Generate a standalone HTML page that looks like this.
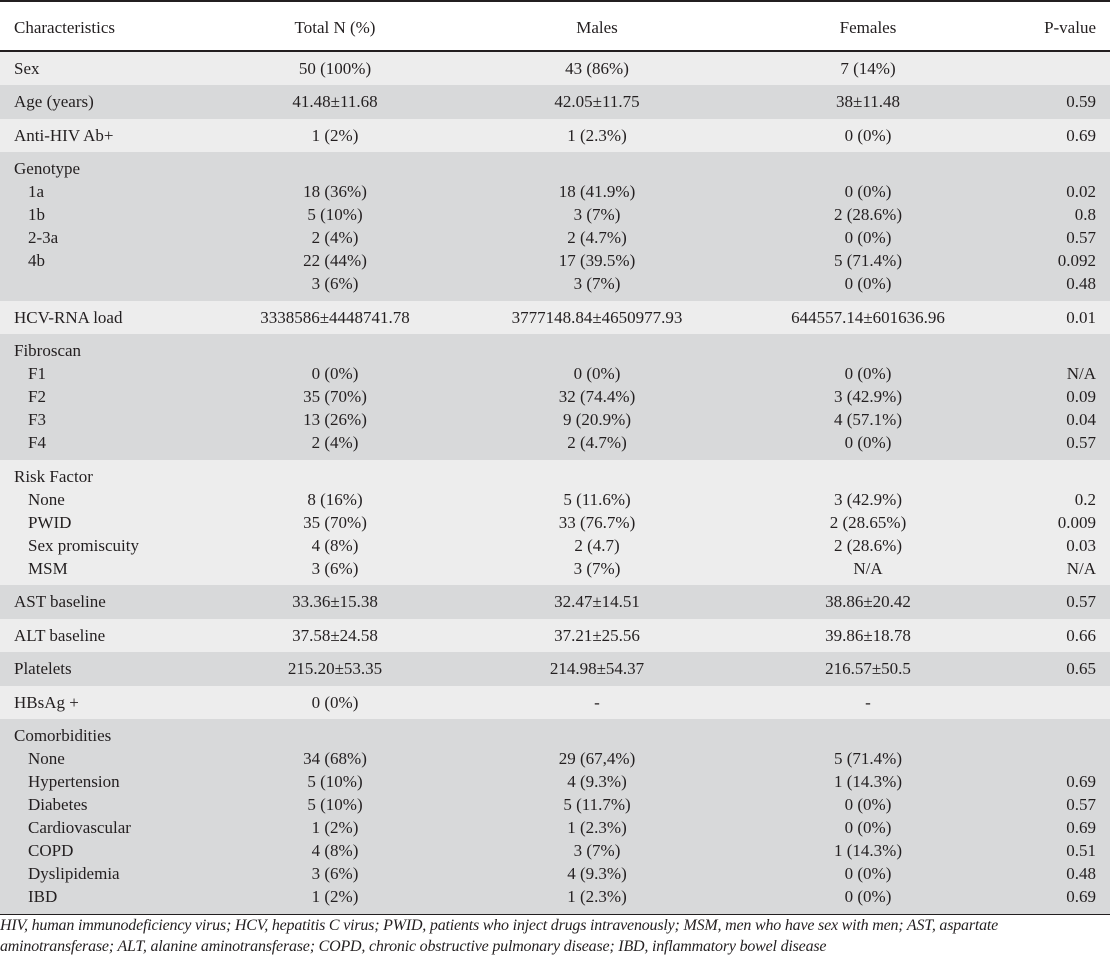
<!DOCTYPE html>
<html><head><meta charset="utf-8">
<style>
html,body{margin:0;padding:0;background:#fff;}
body{width:1110px;height:957px;position:relative;overflow:hidden;font-family:"Liberation Serif",serif;font-size:17px;color:#231f20;}
.top{position:absolute;left:0;top:0;width:1110px;height:2px;background:#231f20;}
.hdr{position:absolute;left:0;top:2px;width:1110px;height:48px;}
.hl{position:absolute;left:0;top:50px;width:1110px;height:1.5px;background:#231f20;}
.body{position:absolute;left:0;top:51.5px;width:1110px;}
.g{padding:5px 0 5.5px 0;}
.L{background:#ededed;}
.D{background:#d8d9da;}
.ln{position:relative;height:23px;line-height:23px;white-space:nowrap;}
.ln span{position:absolute;top:0;}
.c0{left:14px;}
.c0.s{left:28px;}
.c1{left:335px;transform:translateX(-50%);}
.c2{left:597px;transform:translateX(-50%);}
.c3{left:868px;transform:translateX(-50%);}
.c4{right:14px;}
.hdr .ln{position:absolute;top:14px;left:0;width:1110px;}
.bl{position:absolute;left:0;top:913.5px;width:1110px;height:1.5px;background:#231f20;}
.foot{position:absolute;left:0;top:915px;width:1110px;font-style:italic;font-size:16px;line-height:21px;white-space:nowrap;letter-spacing:-0.2px;}
</style></head>
<body>
<div class="top"></div>
<div class="hdr">
 <div class="ln"><span class="c0">Characteristics</span><span class="c1">Total N (%)</span><span class="c2">Males</span><span class="c3">Females</span><span class="c4">P-value</span></div>
</div>
<div class="hl"></div>
<div class="body">
 <div class="g L"><div class="ln"><span class="c0">Sex</span><span class="c1">50 (100%)</span><span class="c2">43 (86%)</span><span class="c3">7 (14%)</span></div></div>
 <div class="g D"><div class="ln"><span class="c0">Age (years)</span><span class="c1">41.48±11.68</span><span class="c2">42.05±11.75</span><span class="c3">38±11.48</span><span class="c4">0.59</span></div></div>
 <div class="g L"><div class="ln"><span class="c0">Anti-HIV Ab+</span><span class="c1">1 (2%)</span><span class="c2">1 (2.3%)</span><span class="c3">0 (0%)</span><span class="c4">0.69</span></div></div>
 <div class="g D">
  <div class="ln"><span class="c0">Genotype</span></div>
  <div class="ln"><span class="c0 s">1a</span><span class="c1">18 (36%)</span><span class="c2">18 (41.9%)</span><span class="c3">0 (0%)</span><span class="c4">0.02</span></div>
  <div class="ln"><span class="c0 s">1b</span><span class="c1">5 (10%)</span><span class="c2">3 (7%)</span><span class="c3">2 (28.6%)</span><span class="c4">0.8</span></div>
  <div class="ln"><span class="c0 s">2-3a</span><span class="c1">2 (4%)</span><span class="c2">2 (4.7%)</span><span class="c3">0 (0%)</span><span class="c4">0.57</span></div>
  <div class="ln"><span class="c0 s">4b</span><span class="c1">22 (44%)</span><span class="c2">17 (39.5%)</span><span class="c3">5 (71.4%)</span><span class="c4">0.092</span></div>
  <div class="ln"><span class="c1">3 (6%)</span><span class="c2">3 (7%)</span><span class="c3">0 (0%)</span><span class="c4">0.48</span></div>
 </div>
 <div class="g L"><div class="ln"><span class="c0">HCV-RNA load</span><span class="c1">3338586±4448741.78</span><span class="c2">3777148.84±4650977.93</span><span class="c3">644557.14±601636.96</span><span class="c4">0.01</span></div></div>
 <div class="g D">
  <div class="ln"><span class="c0">Fibroscan</span></div>
  <div class="ln"><span class="c0 s">F1</span><span class="c1">0 (0%)</span><span class="c2">0 (0%)</span><span class="c3">0 (0%)</span><span class="c4">N/A</span></div>
  <div class="ln"><span class="c0 s">F2</span><span class="c1">35 (70%)</span><span class="c2">32 (74.4%)</span><span class="c3">3 (42.9%)</span><span class="c4">0.09</span></div>
  <div class="ln"><span class="c0 s">F3</span><span class="c1">13 (26%)</span><span class="c2">9 (20.9%)</span><span class="c3">4 (57.1%)</span><span class="c4">0.04</span></div>
  <div class="ln"><span class="c0 s">F4</span><span class="c1">2 (4%)</span><span class="c2">2 (4.7%)</span><span class="c3">0 (0%)</span><span class="c4">0.57</span></div>
 </div>
 <div class="g L">
  <div class="ln"><span class="c0">Risk Factor</span></div>
  <div class="ln"><span class="c0 s">None</span><span class="c1">8 (16%)</span><span class="c2">5 (11.6%)</span><span class="c3">3 (42.9%)</span><span class="c4">0.2</span></div>
  <div class="ln"><span class="c0 s">PWID</span><span class="c1">35 (70%)</span><span class="c2">33 (76.7%)</span><span class="c3">2 (28.65%)</span><span class="c4">0.009</span></div>
  <div class="ln"><span class="c0 s">Sex promiscuity</span><span class="c1">4 (8%)</span><span class="c2">2 (4.7)</span><span class="c3">2 (28.6%)</span><span class="c4">0.03</span></div>
  <div class="ln"><span class="c0 s">MSM</span><span class="c1">3 (6%)</span><span class="c2">3 (7%)</span><span class="c3">N/A</span><span class="c4">N/A</span></div>
 </div>
 <div class="g D"><div class="ln"><span class="c0">AST baseline</span><span class="c1">33.36±15.38</span><span class="c2">32.47±14.51</span><span class="c3">38.86±20.42</span><span class="c4">0.57</span></div></div>
 <div class="g L"><div class="ln"><span class="c0">ALT baseline</span><span class="c1">37.58±24.58</span><span class="c2">37.21±25.56</span><span class="c3">39.86±18.78</span><span class="c4">0.66</span></div></div>
 <div class="g D"><div class="ln"><span class="c0">Platelets</span><span class="c1">215.20±53.35</span><span class="c2">214.98±54.37</span><span class="c3">216.57±50.5</span><span class="c4">0.65</span></div></div>
 <div class="g L"><div class="ln"><span class="c0">HBsAg +</span><span class="c1">0 (0%)</span><span class="c2">-</span><span class="c3">-</span></div></div>
 <div class="g D">
  <div class="ln"><span class="c0">Comorbidities</span></div>
  <div class="ln"><span class="c0 s">None</span><span class="c1">34 (68%)</span><span class="c2">29 (67,4%)</span><span class="c3">5 (71.4%)</span></div>
  <div class="ln"><span class="c0 s">Hypertension</span><span class="c1">5 (10%)</span><span class="c2">4 (9.3%)</span><span class="c3">1 (14.3%)</span><span class="c4">0.69</span></div>
  <div class="ln"><span class="c0 s">Diabetes</span><span class="c1">5 (10%)</span><span class="c2">5 (11.7%)</span><span class="c3">0 (0%)</span><span class="c4">0.57</span></div>
  <div class="ln"><span class="c0 s">Cardiovascular</span><span class="c1">1 (2%)</span><span class="c2">1 (2.3%)</span><span class="c3">0 (0%)</span><span class="c4">0.69</span></div>
  <div class="ln"><span class="c0 s">COPD</span><span class="c1">4 (8%)</span><span class="c2">3 (7%)</span><span class="c3">1 (14.3%)</span><span class="c4">0.51</span></div>
  <div class="ln"><span class="c0 s">Dyslipidemia</span><span class="c1">3 (6%)</span><span class="c2">4 (9.3%)</span><span class="c3">0 (0%)</span><span class="c4">0.48</span></div>
  <div class="ln"><span class="c0 s">IBD</span><span class="c1">1 (2%)</span><span class="c2">1 (2.3%)</span><span class="c3">0 (0%)</span><span class="c4">0.69</span></div>
 </div>
</div>
<div class="bl"></div>
<div class="foot">HIV, human immunodeficiency virus; HCV, hepatitis C virus; PWID, patients who inject drugs intravenously; MSM, men who have sex with men; AST, aspartate<br>aminotransferase; ALT, alanine aminotransferase; COPD, chronic obstructive pulmonary disease; IBD, inflammatory bowel disease</div>
</body></html>
